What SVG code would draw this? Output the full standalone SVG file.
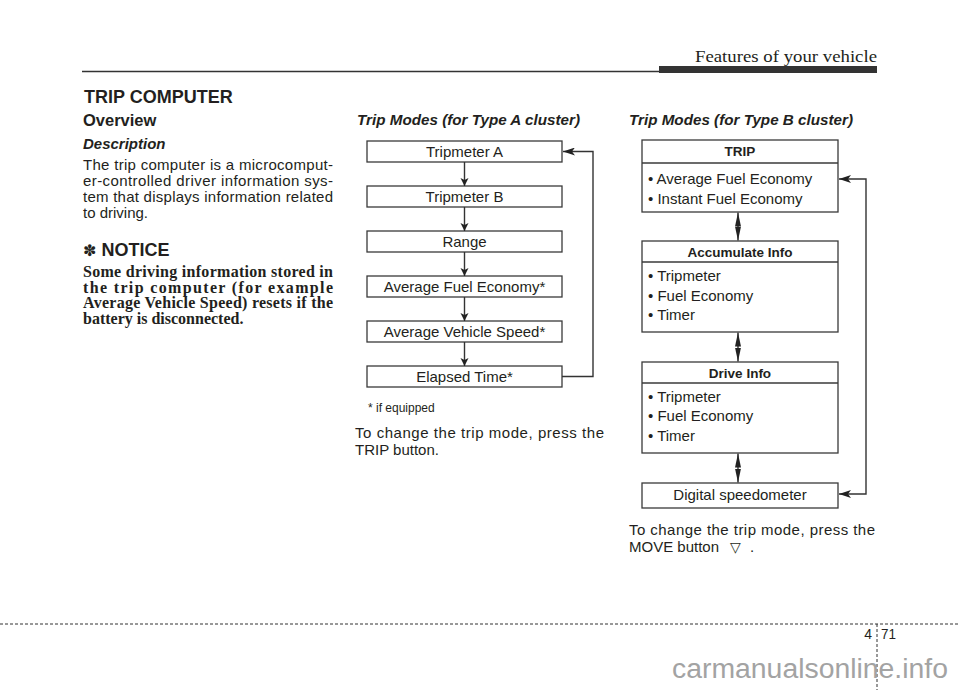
<svg xmlns="http://www.w3.org/2000/svg" width="960" height="690" viewBox="0 0 960 690">
<defs>
<style>
.sans{font-family:"Liberation Sans",Arial,sans-serif;fill:#231f20}
.serif{font-family:"Liberation Serif","Times New Roman",serif;fill:#231f20}
.box{fill:#fff;stroke:#3a3a3a;stroke-width:1.3}
.lbl{font-size:15px;text-anchor:middle}
.hdr{font-size:13.5px;font-weight:bold;text-anchor:middle}
.item{font-size:15px}
.body{font-size:15px}
.conn{fill:none;stroke:#333;stroke-width:1.4}
</style>
<marker id="ah" viewBox="0 0 12 8" refX="12" refY="4" markerWidth="12" markerHeight="8" markerUnits="userSpaceOnUse" orient="auto-start-reverse">
<path d="M0,0 L12,4 L0,8 L3,4 z" fill="#222"/>
</marker>
<marker id="dn" viewBox="0 0 8 10" refX="8" refY="4" markerWidth="8" markerHeight="10" markerUnits="userSpaceOnUse" orient="auto-start-reverse">
<path d="M0,0 L8,4 L0,8 L2,4 z" fill="#222"/>
</marker>
<marker id="dbl" viewBox="0 0 14 6" refX="14" refY="3" markerWidth="14" markerHeight="6" markerUnits="userSpaceOnUse" orient="auto-start-reverse">
<path d="M0,0 L14,3 L0,6 z" fill="#222"/>
</marker>
</defs>
<rect width="960" height="690" fill="#fff"/>

<!-- header -->
<g id="header">
<text class="serif" x="877" y="62" font-size="17" text-anchor="end" textLength="182" lengthAdjust="spacingAndGlyphs">Features of your vehicle</text>
<line x1="82" y1="71.5" x2="660" y2="71.5" stroke="#333" stroke-width="1.5"/>
<rect x="659" y="66" width="218" height="7" fill="#333"/>
<text class="sans" x="84" y="103" font-size="18" font-weight="bold">TRIP COMPUTER</text>
</g>

<!-- left column -->
<g id="overview">
<text class="sans" x="83" y="126" font-size="16.5" font-weight="bold">Overview</text>
<text class="sans" x="83" y="149" font-size="15" font-weight="bold" font-style="italic">Description</text>
<text class="sans body" x="83" y="170" textLength="250" lengthAdjust="spacing">The trip computer is a microcomput-</text>
<text class="sans body" x="83" y="186" textLength="250" lengthAdjust="spacing">er-controlled driver information sys-</text>
<text class="sans body" x="83" y="202" textLength="250" lengthAdjust="spacing">tem that displays information related</text>
<text class="sans body" x="83" y="218">to driving.</text>
<text class="sans" x="83" y="256" font-size="18" font-weight="bold"><tspan font-family="DejaVu Sans,sans-serif" font-size="16">✽</tspan> NOTICE</text>
<text class="serif" x="83" y="277" font-size="16" font-weight="bold" textLength="250" lengthAdjust="spacing">Some driving information stored in</text>
<text class="serif" x="83" y="292.5" font-size="16" font-weight="bold" textLength="250" lengthAdjust="spacing">the trip computer (for example</text>
<text class="serif" x="83" y="308" font-size="16" font-weight="bold" textLength="250" lengthAdjust="spacing">Average Vehicle Speed) resets if the</text>
<text class="serif" x="83" y="324" font-size="16" font-weight="bold">battery is disconnected.</text>
</g>

<!-- Type A -->
<text class="sans" x="357" y="125" font-size="14.5" font-weight="bold" font-style="italic" textLength="223" lengthAdjust="spacingAndGlyphs">Trip Modes (for Type A cluster)</text>
<g id="a_tripA"><rect class="box" x="367" y="141" width="195" height="21"/><text class="sans lbl" x="464.5" y="157">Tripmeter A</text></g>
<g id="a_tripB"><rect class="box" x="367" y="186" width="195" height="21"/><text class="sans lbl" x="464.5" y="202">Tripmeter B</text></g>
<g id="a_range"><rect class="box" x="367" y="231" width="195" height="21"/><text class="sans lbl" x="464.5" y="247">Range</text></g>
<g id="a_afe"><rect class="box" x="367" y="276" width="195" height="21"/><text class="sans lbl" x="464.5" y="292">Average Fuel Economy*</text></g>
<g id="a_avs"><rect class="box" x="367" y="321" width="195" height="21"/><text class="sans lbl" x="464.5" y="337">Average Vehicle Speed*</text></g>
<g id="a_et"><rect class="box" x="367" y="366" width="195" height="21"/><text class="sans lbl" x="464.5" y="382">Elapsed Time*</text></g>
<text class="sans" x="368" y="412" font-size="12">* if equipped</text>
<text class="sans body" x="355" y="438" textLength="249" lengthAdjust="spacing">To change the trip mode, press the</text>
<text class="sans body" x="355" y="455">TRIP button.</text>

<!-- Type B -->
<text class="sans" x="629" y="125" font-size="14.5" font-weight="bold" font-style="italic" textLength="224" lengthAdjust="spacingAndGlyphs">Trip Modes (for Type B cluster)</text>
<g id="b_trip">
<rect class="box" x="642" y="140" width="196" height="72"/>
<line x1="642" y1="163" x2="838" y2="163" stroke="#3a3a3a" stroke-width="1.3"/>
<text class="sans hdr" x="740" y="156">TRIP</text>
<text class="sans item" x="648" y="184">• Average Fuel Economy</text>
<text class="sans item" x="648" y="204">• Instant Fuel Economy</text>
</g>
<g id="b_accum">
<rect class="box" x="642" y="241" width="196" height="91"/>
<line x1="642" y1="262" x2="838" y2="262" stroke="#3a3a3a" stroke-width="1.3"/>
<text class="sans hdr" x="740" y="256.5">Accumulate Info</text>
<text class="sans item" x="648" y="281">• Tripmeter</text>
<text class="sans item" x="648" y="301">• Fuel Economy</text>
<text class="sans item" x="648" y="320">• Timer</text>
</g>
<g id="b_drive">
<rect class="box" x="642" y="362" width="196" height="91"/>
<line x1="642" y1="383" x2="838" y2="383" stroke="#3a3a3a" stroke-width="1.3"/>
<text class="sans hdr" x="740" y="377.5">Drive Info</text>
<text class="sans item" x="648" y="402">• Tripmeter</text>
<text class="sans item" x="648" y="421">• Fuel Economy</text>
<text class="sans item" x="648" y="441">• Timer</text>
</g>
<g id="b_speedo">
<rect class="box" x="642" y="483" width="196" height="25"/>
<text class="sans lbl" x="740" y="500">Digital speedometer</text>
</g>
<text class="sans body" x="629" y="535" textLength="246" lengthAdjust="spacing">To change the trip mode, press the</text>
<text class="sans body" x="629" y="552">MOVE button <tspan x="730" font-family="DejaVu Sans,sans-serif" font-size="14">▽</tspan><tspan x="750">.</tspan></text>

<!-- connectors -->
<g id="connectors">
<line class="conn" x1="464.5" y1="162" x2="464.5" y2="186" marker-end="url(#dn)"/>
<line class="conn" x1="464.5" y1="207" x2="464.5" y2="231" marker-end="url(#dn)"/>
<line class="conn" x1="464.5" y1="252" x2="464.5" y2="276" marker-end="url(#dn)"/>
<line class="conn" x1="464.5" y1="297" x2="464.5" y2="321" marker-end="url(#dn)"/>
<line class="conn" x1="464.5" y1="342" x2="464.5" y2="366" marker-end="url(#dn)"/>
<path class="conn" d="M562,376.5 H593 V151.5 H563" marker-end="url(#ah)"/>
<line class="conn" x1="738" y1="212.5" x2="738" y2="240.5" marker-start="url(#dbl)" marker-end="url(#dbl)"/>
<line class="conn" x1="738" y1="332.5" x2="738" y2="361.5" marker-start="url(#dbl)" marker-end="url(#dbl)"/>
<line class="conn" x1="738" y1="453.5" x2="738" y2="482.5" marker-start="url(#dbl)" marker-end="url(#dbl)"/>
<path class="conn" d="M839,179 H866 V494 H839" marker-start="url(#ah)" marker-end="url(#ah)"/>
</g>

<!-- footer -->
<g id="footer">
<line x1="0" y1="624" x2="960" y2="624" stroke="#333" stroke-width="1" stroke-dasharray="3,2"/>
<line x1="877" y1="624" x2="877" y2="690" stroke="#333" stroke-width="1" stroke-dasharray="3,2"/>
<text class="sans" x="872" y="639" font-size="14" text-anchor="end">4</text>
<text class="sans" x="881" y="639" font-size="14" textLength="15" lengthAdjust="spacingAndGlyphs">71</text>
<text x="672" y="678" font-family="Liberation Sans,Arial,sans-serif" font-size="27" fill="#a3a3a3" textLength="276" lengthAdjust="spacingAndGlyphs">carmanualsonline.info</text>
</g>
</svg>
